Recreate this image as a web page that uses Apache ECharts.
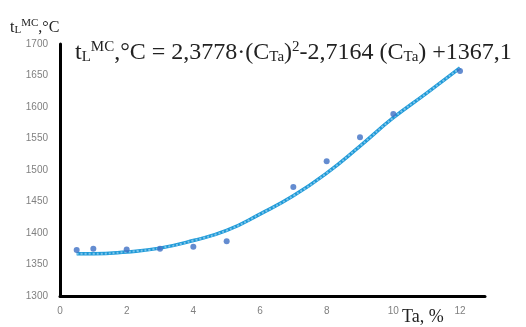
<!DOCTYPE html>
<html><head><meta charset="utf-8">
<script src="https://cdn.jsdelivr.net/npm/echarts@6/dist/echarts.min.js"></script>
<style>html,body{margin:0;padding:0;background:#fff}#c{width:526px;height:327px}</style>
</head><body><div id="c"></div>
<script>
const xTicks = [0, 2, 4, 6, 8, 10, 12];
const yTicks = [1300, 1350, 1400, 1450, 1500, 1550, 1600, 1650, 1700];
const taX = [0.5, 1, 2, 3, 4, 5, 7, 8, 9, 10, 12];
const tempY = [1373, 1375, 1374, 1375, 1378, 1387, 1473, 1514, 1552, 1589, 1657];
const trendX = [0.5, 1, 2, 3, 4, 5, 6, 7, 8, 9, 10, 11, 12];
const trendY = [1367, 1367, 1370, 1376, 1388, 1404, 1430, 1459, 1495, 1538, 1583, 1622, 1662];

const chart = echarts.init(document.getElementById('c'));
const serif = '"Liberation Serif", "DejaVu Serif", serif';
chart.setOption({
  animation: false,
  grid: {left: 60, right: 41, top: 44, bottom: 31},
  xAxis: {
    type: 'value', min: 0, max: 12.75, interval: 2,
    axisLine: {lineStyle: {color: '#000', width: 3}},
    axisTick: {show: false}, splitLine: {show: false},
    axisLabel: {color: '#808080', fontSize: 10, fontFamily: 'Liberation Sans', margin: 10,
      showMaxLabel: false,
      formatter: v => xTicks.includes(v) ? String(v) : ''}
  },
  yAxis: {
    type: 'value', min: 1300, max: 1700, interval: 50,
    axisLine: {show: true, lineStyle: {color: '#000', width: 3}},
    axisTick: {show: false}, splitLine: {show: false},
    axisLabel: {color: '#808080', fontSize: 10, fontFamily: 'Liberation Sans', margin: 12,
      formatter: v => yTicks.includes(v) ? String(v) : ''}
  },
  series: [
    {type: 'line', data: trendX.map((x, i) => [x, trendY[i]]), smooth: true, symbol: 'none',
     lineStyle: {color: '#1f9ad8', width: 3.5}, z: 2},
    {type: 'line', data: trendX.map((x, i) => [x, trendY[i]]), smooth: true, symbol: 'none',
     lineStyle: {color: '#7cc4ea', width: 2, type: 'dotted'}, z: 3},
    {type: 'scatter', data: taX.map((x, i) => [x, tempY[i]]), symbolSize: 6,
     itemStyle: {color: '#3d6fc4'}, z: 4}
  ],
  graphic: [
    {type: 'text', left: 10, top: 18, style: {
      text: '{m|t}{sub|L}{sup|MC}{m|,°C}',
      rich: {
        m: {fontFamily: serif, fontSize: 16, fill: '#222'},
        sub: {fontFamily: serif, fontSize: 11, fill: '#222', padding: [6, 0, 0, 0]},
        sup: {fontFamily: serif, fontSize: 11, fill: '#222', padding: [0, 0, 8, 0]}
      }}},
    {type: 'text', left: 75, top: 40, style: {
      text: '{m|t}{sub|L}{sup|MC}{m|,°C = 2,3778·(C}{sub|Ta}{m|)}{sup|2}{m|-2,7164 (C}{sub|Ta}{m|) +1367,1}',
      rich: {
        m: {fontFamily: serif, fontSize: 24, fill: '#222'},
        sub: {fontFamily: serif, fontSize: 15, fill: '#222', padding: [9, 0, 0, 0]},
        sup: {fontFamily: serif, fontSize: 15, fill: '#222', padding: [0, 0, 11, 0]}
      }}},
    {type: 'text', left: 402, top: 308, style: {
      text: 'Ta, %', fontFamily: serif, fontSize: 18, fill: '#222'}}
  ]
});
</script></body></html>
